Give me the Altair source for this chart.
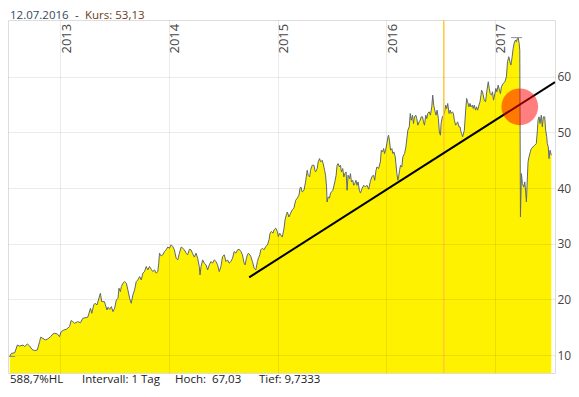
import altair as alt
import pandas as pd

# decimal-year positions and closing prices
YEARS = [
 2012.536, 2012.551, 2012.582, 2012.606, 2012.628, 2012.658, 2012.674, 2012.698, 2012.720, 2012.741,
 2012.765, 2012.789, 2012.811, 2012.820, 2012.841, 2012.863, 2012.887, 2012.912, 2012.933, 2012.949,
 2012.973, 2012.994, 2013.009, 2013.034, 2013.055, 2013.086, 2013.101, 2013.116, 2013.132, 2013.162,
 2013.187, 2013.208, 2013.254, 2013.279, 2013.291, 2013.309, 2013.321, 2013.339, 2013.352, 2013.370,
 2013.382, 2013.407, 2013.431, 2013.440, 2013.456, 2013.471, 2013.486, 2013.501, 2013.517, 2013.532,
 2013.541, 2013.554, 2013.563, 2013.577, 2013.593, 2013.609, 2013.623, 2013.639, 2013.654, 2013.669,
 2013.685, 2013.700, 2013.715, 2013.731, 2013.746, 2013.761, 2013.776, 2013.792, 2013.807, 2013.822,
 2013.838, 2013.852, 2013.868, 2013.884, 2013.898, 2013.907, 2013.914, 2013.929, 2013.944, 2013.960,
 2013.975, 2013.990, 2014.006, 2014.021, 2014.036, 2014.051, 2014.067, 2014.082, 2014.097, 2014.113,
 2014.127, 2014.143, 2014.159, 2014.173, 2014.189, 2014.204, 2014.219, 2014.235, 2014.250, 2014.265,
 2014.280, 2014.287, 2014.296, 2014.311, 2014.326, 2014.342, 2014.357, 2014.372, 2014.388, 2014.402,
 2014.418, 2014.434, 2014.448, 2014.464, 2014.479, 2014.494, 2014.510, 2014.525, 2014.540, 2014.555,
 2014.571, 2014.586, 2014.601, 2014.617, 2014.632, 2014.647, 2014.663, 2014.677, 2014.693, 2014.702,
 2014.714, 2014.723, 2014.732, 2014.745, 2014.754, 2014.769, 2014.785, 2014.800, 2014.815, 2014.824,
 2014.837, 2014.846, 2014.861, 2014.876, 2014.892, 2014.907, 2014.922, 2014.931, 2014.943, 2014.959,
 2014.968, 2014.984, 2014.998, 2015.007, 2015.020, 2015.029, 2015.044, 2015.060, 2015.069, 2015.081,
 2015.090, 2015.105, 2015.121, 2015.136, 2015.151, 2015.167, 2015.182, 2015.197, 2015.206, 2015.215,
 2015.227, 2015.243, 2015.258, 2015.268, 2015.273, 2015.282, 2015.295, 2015.304, 2015.313, 2015.319,
 2015.335, 2015.344, 2015.350, 2015.365, 2015.374, 2015.387, 2015.396, 2015.411, 2015.420, 2015.433,
 2015.442, 2015.451, 2015.456, 2015.466, 2015.478, 2015.488, 2015.497, 2015.509, 2015.527, 2015.539,
 2015.548, 2015.557, 2015.570, 2015.579, 2015.588, 2015.600, 2015.610, 2015.619, 2015.631, 2015.640,
 2015.649, 2015.662, 2015.671, 2015.680, 2015.692, 2015.701, 2015.710, 2015.722, 2015.731, 2015.741,
 2015.753, 2015.763, 2015.777, 2015.793, 2015.808, 2015.823, 2015.839, 2015.854, 2015.869, 2015.884,
 2015.894, 2015.906, 2015.915, 2015.930, 2015.946, 2015.955, 2015.967, 2015.976, 2015.985, 2015.997,
 2016.006, 2016.016, 2016.022, 2016.031, 2016.040, 2016.052, 2016.061, 2016.071, 2016.083, 2016.098,
 2016.107, 2016.114, 2016.123, 2016.132, 2016.144, 2016.153, 2016.169, 2016.181, 2016.199, 2016.212,
 2016.221, 2016.230, 2016.242, 2016.251, 2016.260, 2016.272, 2016.281, 2016.291, 2016.303, 2016.313,
 2016.322, 2016.334, 2016.343, 2016.352, 2016.364, 2016.373, 2016.382, 2016.395, 2016.407, 2016.419,
 2016.428, 2016.437, 2016.450, 2016.459, 2016.468, 2016.480, 2016.489, 2016.499, 2016.505, 2016.517,
 2016.530, 2016.535, 2016.547, 2016.556, 2016.566, 2016.578, 2016.588, 2016.597, 2016.609, 2016.618,
 2016.627, 2016.639, 2016.648, 2016.657, 2016.670, 2016.679, 2016.688, 2016.694, 2016.703, 2016.719,
 2016.731, 2016.740, 2016.749, 2016.762, 2016.771, 2016.780, 2016.792, 2016.801, 2016.810, 2016.822,
 2016.831, 2016.841, 2016.853, 2016.863, 2016.872, 2016.877, 2016.886, 2016.902, 2016.914, 2016.927,
 2016.939, 2016.948, 2016.957, 2016.969, 2016.978, 2016.987, 2017.000, 2017.009, 2017.018, 2017.030,
 2017.042, 2017.051, 2017.060, 2017.076, 2017.092, 2017.106, 2017.116, 2017.128, 2017.138, 2017.147,
 2017.159, 2017.168, 2017.177, 2017.189, 2017.198, 2017.207, 2017.214, 2017.223, 2017.229, 2017.235,
 2017.244, 2017.253, 2017.266, 2017.275, 2017.284, 2017.290, 2017.299, 2017.305, 2017.314, 2017.326,
 2017.335, 2017.351, 2017.367, 2017.381, 2017.391, 2017.397, 2017.406, 2017.415, 2017.427, 2017.436,
 2017.446, 2017.458, 2017.467, 2017.477, 2017.482, 2017.491, 2017.498, 2017.507, 2017.519,
]

PRICES = [
 9.73, 10.3, 10.4, 11.8, 11.6, 11.8, 11.5, 12.0, 11.6, 11.0,
 10.8, 10.9, 12.4, 13.2, 13.0, 12.7, 12.9, 13.3, 13.8, 13.9,
 13.8, 13.3, 14.2, 14.5, 14.6, 15.1, 16.2, 16.0, 15.7, 16.0,
 15.8, 16.6, 16.8, 18.4, 17.5, 19.0, 19.3, 19.0, 19.9, 21.1,
 19.6, 19.6, 18.1, 18.6, 18.2, 18.7, 17.8, 18.4, 19.9, 20.2,
 22.0, 21.4, 22.3, 22.9, 23.2, 22.9, 21.7, 20.2, 19.3, 20.8,
 21.7, 23.2, 23.5, 24.1, 23.5, 24.7, 25.0, 25.9, 25.3, 25.9,
 25.4, 25.0, 25.3, 24.7, 25.0, 26.5, 28.3, 27.8, 28.0, 28.6,
 28.9, 29.4, 29.2, 29.8, 29.5, 28.9, 27.4, 27.1, 28.3, 29.4,
 29.2, 28.9, 28.3, 28.0, 29.0, 28.9, 28.2, 27.6, 28.3, 27.4,
 25.9, 24.4, 25.9, 27.1, 26.5, 26.2, 25.3, 26.2, 26.8, 26.5,
 27.1, 26.8, 26.2, 25.0, 25.9, 27.7, 28.0, 26.8, 27.1, 26.5,
 26.8, 27.4, 28.6, 28.3, 28.9, 29.0, 28.6, 28.0, 26.5, 26.2,
 27.4, 28.0, 28.3, 28.0, 27.7, 26.8, 25.6, 25.3, 26.8, 27.4,
 28.0, 28.9, 29.2, 28.9, 29.5, 29.8, 30.7, 31.9, 32.2, 31.9,
 32.5, 32.8, 32.2, 31.3, 31.9, 31.6, 31.2, 32.8, 34.3, 35.2,
 35.7, 34.8, 35.5, 36.1, 36.4, 37.8, 38.2, 38.7, 39.9, 40.2,
 39.3, 39.6, 41.1, 42.6, 43.2, 42.3, 42.0, 43.2, 43.8, 44.1,
 44.1, 43.2, 42.9, 43.5, 44.7, 45.3, 44.7, 45.0, 44.4, 43.2,
 42.3, 40.2, 37.5, 38.4, 38.2, 39.1, 39.3, 39.6, 41.1, 42.3,
 44.1, 44.4, 43.8, 44.1, 42.9, 43.5, 42.0, 42.6, 42.9, 39.6,
 42.3, 41.7, 42.6, 41.1, 41.4, 40.5, 40.8, 41.4, 40.5, 41.1,
 39.6, 39.1, 39.9, 40.5, 40.2, 40.5, 39.8, 41.2, 42.1, 42.3,
 41.4, 43.2, 43.8, 43.5, 44.7, 46.8, 46.5, 47.1, 46.2, 47.1,
 48.0, 49.2, 49.5, 48.3, 46.8, 47.1, 46.2, 46.5, 45.6, 42.6,
 41.4, 42.0, 43.2, 44.1, 43.8, 45.6, 46.2, 47.4, 50.4, 51.0,
 53.4, 52.2, 53.1, 51.6, 52.8, 53.1, 52.5, 51.3, 51.9, 52.2,
 52.8, 52.8, 51.9, 51.3, 53.1, 52.5, 53.4, 53.7, 53.1, 54.6,
 56.7, 54.9, 53.7, 53.1, 54.0, 52.5, 50.1, 49.5, 51.6, 52.8,
 53.13, 53.4, 54.9, 54.3, 55.2, 53.4, 54.0, 53.4, 53.7, 53.4,
 52.2, 51.3, 51.6, 51.9, 51.0, 51.0, 50.1, 49.8, 49.2, 50.4,
 54.0, 56.1, 55.5, 54.6, 55.2, 54.6, 54.9, 54.3, 54.9, 54.0,
 54.6, 54.0, 54.9, 55.5, 56.7, 57.6, 57.3, 55.8, 55.5, 57.6,
 59.1, 57.9, 57.0, 56.7, 57.3, 55.8, 57.0, 57.9, 57.3, 58.5,
 57.6, 57.0, 58.2, 58.8, 59.1, 60.0, 62.7, 63.6, 62.7, 62.1,
 63.6, 65.1, 66.0, 66.6, 66.3, 66.9, 67.03, 66.0, 64.8, 34.8,
 42.6, 40.8, 40.2, 41.1, 39.1, 37.5, 42.0, 44.7, 45.6, 46.5,
 47.1, 47.4, 47.7, 48.0, 50.4, 52.2, 52.8, 51.6, 53.1, 51.0,
 52.8, 52.8, 50.4, 49.2, 48.0, 47.4, 45.3, 46.8, 45.9,
]
assert len(YEARS) == len(PRICES)

YEAR_TICKS = [2013, 2014, 2015, 2016, 2017]
PRICE_TICKS = [10, 20, 30, 40, 50, 60]
X_DOMAIN = [2012.52, 2017.553]
Y_DOMAIN = [6.77, 70.2]

SELECTED_YEAR = [2016.530]           # 12.07.2016
TREND_YEARS = [2014.739, 2017.553]
TREND_PRICES = [23.96, 59.05]
MARK_YEAR = [2017.229]
MARK_PRICE = [54.6]
HILO_START = [2017.149, 2012.530]
HILO_END = [2017.250, 2012.585]
HILO_PRICE = [67.03, 9.7333]

TITLE_DATE = "12.07.2016"
TITLE_SEP = "-"
TITLE_KURS = "Kurs: 53,13"
FOOTER = ["588,7%HL", "Intervall: 1 Tag", "Hoch:\u00a0\u00a067,03", "Tief: 9,7333"]

FONT = "Open Sans"
W, H = 547, 353

df = pd.DataFrame({"yr": YEARS, "price": PRICES})
sel = pd.DataFrame({"yr": SELECTED_YEAR})
trend = pd.DataFrame({"yr": TREND_YEARS, "price": TREND_PRICES})
mark = pd.DataFrame({"yr": MARK_YEAR, "price": MARK_PRICE})
hilo = pd.DataFrame({"yr": HILO_START, "yr2": HILO_END, "price": HILO_PRICE})

xs = alt.Scale(domain=X_DOMAIN, nice=False, zero=False)
ys = alt.Scale(domain=Y_DOMAIN, nice=False, zero=False)

x_axis = alt.Axis(
    orient="top", values=YEAR_TICKS, format="d", title=None,
    grid=True, gridColor="#000000", gridOpacity=0.08, domain=False,
    ticks=False, tickSize=0, labelAngle=270, labelAlign="left",
    labelBaseline="top", labelPadding=-33, labelFont=FONT, labelFontSize=13,
    labelColor="#444444", labelOverlap=False, labelBound=False, labelFlush=False,
    zindex=1,
)
y_axis = alt.Axis(
    orient="right", values=PRICE_TICKS, title=None, grid=True,
    gridColor="#000000", gridOpacity=0.08, domain=False, ticks=False,
    tickSize=0, labelPadding=2, labelFont=FONT, labelFontSize=12,
    labelColor="#444444", zindex=1,
)

X = alt.X("yr:Q", scale=xs, axis=x_axis)
Y = alt.Y("price:Q", scale=ys, axis=y_axis)

area = alt.Chart(df).mark_area(color="#FFF200", clip=True).encode(x=X, y=Y)
line = alt.Chart(df).mark_line(color="#5d6873", strokeWidth=1, clip=True).encode(x=X, y=Y)
hl = alt.Chart(hilo).mark_rule(color="#8a8f96", strokeWidth=1).encode(
    x=X, x2="yr2:Q", y=Y)
vline = alt.Chart(sel).mark_rule(color="#FFC83A", strokeWidth=1.5).encode(x=X)
tline = alt.Chart(trend).mark_line(color="#000000", strokeWidth=2).encode(x=X, y=Y)
circ = alt.Chart(mark).mark_circle(color="#FF0000", opacity=0.5, size=1350).encode(x=X, y=Y)

one = alt.Data(values=[{}])


def label(txt, x, y, color, size=11.5):
    return alt.Chart(one).mark_text(
        align="left", baseline="middle", font=FONT, fontSize=size, color=color
    ).encode(text=alt.value(txt), x=alt.value(x), y=alt.value(y))


TY, FY = -4.5, 359.5
texts = [
    label(TITLE_DATE, 2, TY, "#34495e"),
    label(TITLE_SEP, 67, TY, "#333333"),
    label(TITLE_KURS, 77, TY, "#6b3b1d"),
    label(FOOTER[0], 2, FY, "#222222"),
    label(FOOTER[1], 74, FY, "#222222"),
    label(FOOTER[2], 167, FY, "#222222"),
    label(FOOTER[3], 251, FY, "#222222"),
]

chart = alt.layer(area, line, hl, vline, tline, circ, *texts).properties(
    width=W, height=H,
    autosize=alt.AutoSizeParams(type="none"),
    padding={"left": 0, "top": 12, "right": 16, "bottom": 15},
).configure_view(stroke=None).configure(background="#ffffff")

chart.save("out.html", embed_options={"renderer": "svg", "actions": False})
